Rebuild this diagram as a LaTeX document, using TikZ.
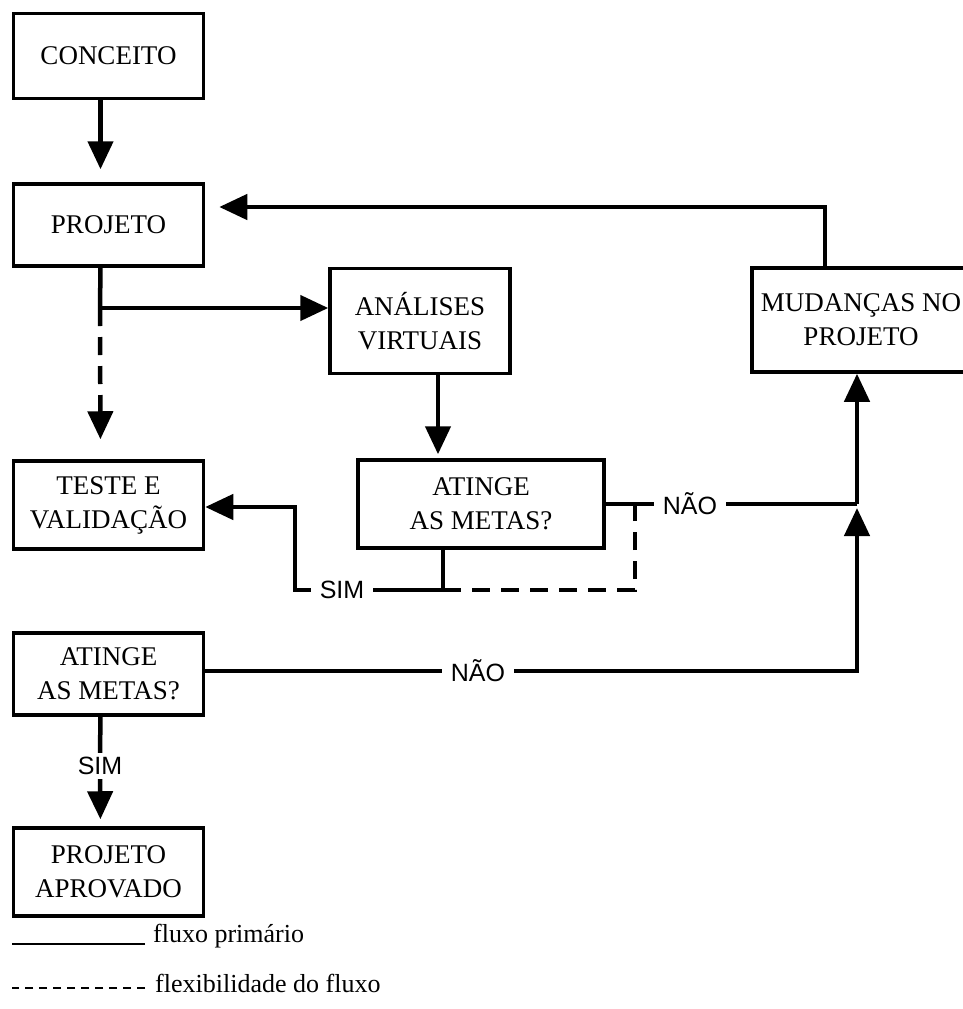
\documentclass[tikz,border=0pt]{standalone}
\usepackage{fontspec}
\setmainfont{Liberation Serif}
\newfontfamily\labelsans{Liberation Sans}
\usetikzlibrary{positioning,arrows.meta,calc}

\begin{document}
\begin{tikzpicture}[x=1pt,y=-1pt,
  box/.style={draw,line width=3.5pt,align=center,inner sep=0pt,font=\fontsize{27}{34}\selectfont},
  lbl/.style={inner xsep=9pt,inner ysep=4pt,font=\labelsans\fontsize{25}{30}\selectfont},
  legtext/.style={inner sep=0pt,anchor=base west,font=\fontsize{26}{30}\selectfont},
  flow/.style={line width=4.5pt},
  flowarr/.style={flow,-{Triangle[length=28pt,width=25pt]}},
  flex/.style={flow,dash pattern=on 18pt off 11pt},
  flexarr/.style={flex,-{Triangle[length=28pt,width=25pt]}}]
\useasboundingbox (0,0) rectangle (962,1009);
\node[box,minimum width=190pt,minimum height=85pt] (conceito) at (108.5,56) {CONCEITO};
\node[box,minimum width=190pt,minimum height=82pt] (projeto) at (108.5,225) {PROJETO};
\node[box,minimum width=180pt,minimum height=105pt] (analises) at (420,321) {ANÁLISES\\VIRTUAIS};
\node[box,minimum width=218pt,minimum height=104pt] (mudancas) at (861,320) {MUDANÇAS NO\\PROJETO};
\node[box,minimum width=190pt,minimum height=88pt] (teste) at (108.5,505) {TESTE E\\VALIDAÇÃO};
\node[box,minimum width=246pt,minimum height=88pt] (metasA) at (481,504) {ATINGE\\AS METAS?};
\node[box,minimum width=190pt,minimum height=82pt] (metasB) at (108.5,674) {ATINGE\\AS METAS?};
\node[box,minimum width=190pt,minimum height=88pt] (aprovado) at (108.5,872) {PROJETO\\APROVADO};
\node[lbl] (simA) at (342,590) {SIM};
\node[lbl] (naoA) at (690,504) {NÃO};
\node[lbl] (naoB) at (478,671) {NÃO};
\node[lbl] (simB) at (100,766) {SIM};
\coordinate (split) at (100,308);
\coordinate (fbcorner) at (825,207);
\coordinate (simbend) at (295,507);
\coordinate (simjoin) at (443,590);
\coordinate (dashcorner) at (635,590);
\coordinate (naojoin) at (857,504);
\draw[flowarr,shorten >=13pt] ([xshift=-8pt]conceito.south) -- ([xshift=-8pt]projeto.north);
\draw[flowarr,shorten >=14pt] (fbcorner |- mudancas.north) -- (fbcorner) -- (fbcorner -| projeto.east);
\draw[flow] ([xshift=-8pt]projeto.south) -- (split);
\draw[flowarr] (split) -- (split -| analises.west);
\draw[flexarr,shorten >=20pt] (split) -- ([xshift=-8pt]teste.north);
\draw[flowarr,shorten >=4pt] ([xshift=18pt]analises.south) -- ([xshift=18pt]analises.south |- metasA.north);
\draw[flow] ([xshift=-38pt]metasA.south) -- (simjoin) -- (simA.east);
\draw[flowarr] (simA.west) -| (simbend) -- (simbend -| teste.east);
\draw[flex] (simjoin) -- (dashcorner) -- (dashcorner |- metasA.east);
\draw[flow] (metasA.east) -- (naoA.west);
\draw[flow] (naoA.east) -- (naojoin);
\draw[flowarr] (naojoin) -- (naojoin |- mudancas.south);
\draw[flow] (naoB -| metasB.east) -- (naoB.west);
\draw[flowarr,shorten >=4pt] (naoB.east) -| (naojoin);
\draw[flow] ([xshift=-8pt]metasB.south) -- (simB.north);
\draw[flowarr,shorten >=7pt] (simB.south) -- ([xshift=-8pt]aprovado.north);
\node[legtext] (legflow) at (153,942) {fluxo primário};
\node[legtext] (legflex) at (155,992) {flexibilidade do fluxo};
\draw[line width=2pt] ([xshift=-8pt,yshift=-2pt]legflow.base west) -- ++(-133,0);
\draw[line width=2.2pt,dash pattern=on 8pt off 6pt] ([xshift=-10pt,yshift=4pt]legflex.base west) -- ++(-133,0);
\end{tikzpicture}
\end{document}
